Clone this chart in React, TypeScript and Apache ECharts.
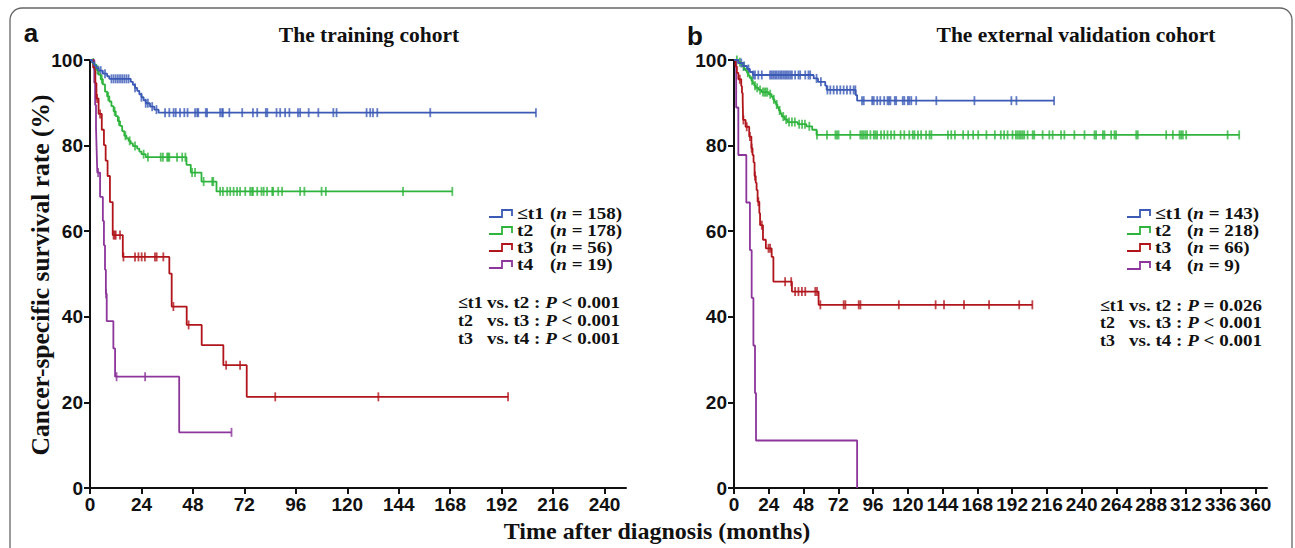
import React, { useEffect, useRef } from "react";
import * as echarts from "echarts";

// ---------- data ----------
const LEFT_XTICKS = [0, 24, 48, 72, 96, 120, 144, 168, 192, 216, 240];
const RIGHT_XTICKS = [0, 24, 48, 72, 96, 120, 144, 168, 192, 216, 240, 264, 288, 312, 336, 360];

// Training cohort
const LB_T = [0, 1, 2, 3, 4, 6, 8, 9, 19, 20, 21, 22, 23, 24, 25, 26, 28, 30, 32];
const LB_S = [100, 99.4, 98.7, 98.1, 97.5, 96.8, 96.2, 95.6, 94.9, 94.2, 93.5, 92.8, 92.0, 91.3, 90.6, 89.9, 89.1, 88.4, 87.7];
const LB_END = 208;
const LB_C = [2, 4, 5, 7, 10, 11, 12, 13, 14, 15, 16, 17, 18, 21, 24, 26, 27, 29, 31, 35, 37, 39, 40, 42, 44, 45.5, 49, 50, 50.5, 54, 54.6, 60.7, 61.6, 62, 65, 71, 76, 78, 82, 82.7, 87, 88.7, 91, 93, 97, 98, 102, 106.5, 113.5, 115, 129, 130.7, 132, 134, 158.7, 208];

const LG_T = [0, 1, 2, 3, 4, 5, 6, 7, 8, 9, 10, 11, 12, 13, 14, 15, 16, 17, 18, 19, 20, 22, 23, 24, 26, 45, 47, 52, 59];
const LG_S = [100, 99.4, 98.9, 97.7, 96.6, 95.5, 94.3, 92.6, 91.5, 90.3, 89.2, 88.0, 86.9, 85.7, 84.6, 83.4, 82.3, 81.7, 81.1, 80.5, 79.9, 79.3, 78.6, 78.0, 77.3, 75.5, 73.7, 71.6, 69.3];
const LG_END = 169;
const LG_C = [1.5, 3.5, 5.5, 8.5, 11.5, 13.5, 16.5, 18.5, 21, 25, 27, 33, 34, 36, 36.5, 37, 40.6, 43, 44.5, 47.6, 49, 53, 57, 57.5, 60.7, 62, 64, 65.4, 67, 68.6, 70, 72.4, 74.7, 75.6, 76, 78, 80, 81, 82.6, 85, 85.4, 87.8, 89.6, 98, 100, 108, 110, 146, 169];

const LR_T = [0, 1.5, 2.5, 3, 4, 5.5, 6.5, 7.3, 8.2, 9.3, 10.6, 15.3, 37, 38.1, 45.1, 52.1, 62.2, 73.1];
const LR_S = [100, 98.2, 94.6, 91.0, 87.4, 83.7, 80.1, 76.5, 72.9, 66.8, 59.1, 54.0, 50.1, 42.4, 38.1, 33.4, 28.7, 21.3];
const LR_END = 195;
const LR_C = [3.3, 4.7, 11, 11.5, 12, 14, 15.6, 21, 22.6, 24.1, 25.6, 30.3, 31.1, 34.2, 38.9, 46, 63.5, 70, 86.4, 134.5, 195];

const LP_T = [0, 2, 2.4, 2.8, 3.1, 3.4, 4.7, 6, 6.5, 7, 7.4, 7.8, 10.9, 11.7, 41.6];
const LP_S = [100, 94.7, 89.5, 84.2, 78.9, 73.7, 68.0, 62.4, 56.7, 51.0, 45.4, 39.0, 32.6, 26.0, 13.0];
const LP_END = 66;
const LP_C = [3.8, 7.5, 12.4, 25.7, 66];

// External validation cohort
const RB_T = [0, 3, 6, 9, 11, 13, 55, 58, 63, 64, 84, 85];
const RB_S = [100, 99.3, 98.6, 97.9, 97.2, 96.5, 95.7, 94.9, 94.0, 93.0, 91.8, 90.5];
const RB_END = 221;
const RB_C = [5, 7, 10, 13.4, 14.5, 16.8, 19.2, 24.9, 26.1, 27.2, 28.4, 29.5, 30.7, 31.9, 33, 34.2, 35.3, 36.5, 37.6, 38.8, 40, 42.2, 44.5, 45.7, 49.2, 51.4, 52.6, 57, 60, 64.5, 66.5, 68.8, 71.1, 73.4, 75.7, 78, 80.3, 82.6, 83.8, 88.4, 89.6, 95.4, 96.5, 98.9, 101, 103.7, 106, 107, 108, 111, 112, 116.5, 117.6, 120, 121, 122.4, 125.8, 139.7, 166, 191.5, 195, 221];

const RG_T = [0, 3, 5, 6, 7, 8, 9, 10, 11, 12, 13, 14, 15, 17, 19, 24, 26, 27, 28, 29, 30, 31, 32, 33, 35, 37, 44, 50, 54, 57];
const RG_S = [100, 99.5, 99, 98.5, 98, 97.5, 97, 96.4, 95.8, 95.2, 94.6, 94.0, 93.5, 93, 92.5, 92, 91.4, 90.8, 90.2, 89.6, 88.9, 88.2, 87.5, 86.8, 86.1, 85.5, 85.0, 84.5, 83.7, 82.5];
const RG_END = 349;
const RG_C = [2, 4, 6.5, 9.5, 12.5, 14.5, 16, 18, 20, 21, 22, 23, 25, 27.5, 29.5, 31.5, 34, 36, 38, 40, 42, 45, 47, 49, 52, 57.3, 64.2, 70, 71.1, 72.2, 80.3, 87.2, 88.4, 89.5, 90.7, 91.9, 94.2, 96.5, 97.6, 98.8, 101.5, 103.7, 106, 108.4, 110.7, 115, 117.6, 121, 123.4, 124.6, 127, 129.2, 132.6, 135, 136.3, 147.7, 150, 152.5, 158.2, 161.7, 165.1, 168.6, 174.3, 180.1, 184.2, 186.5, 188.9, 192.3, 194.6, 195.8, 197, 198.1, 199.3, 200.4, 202.7, 206.2, 207.3, 213.1, 217.7, 220, 225.8, 228.1, 235, 242, 248.9, 250, 254.7, 255.8, 260.4, 262.7, 263.8, 277.7, 278.8, 298.4, 303, 307.6, 308.7, 309.9, 312.2, 340.8, 348.8];

const RR_T = [0, 1, 2, 3, 5, 5.5, 6, 6.3, 8, 10.5, 12, 12.8, 13.5, 14.2, 15, 15.6, 16.3, 17.5, 18, 20, 22, 26, 27.2, 40, 58.4];
const RR_S = [100, 98.5, 97, 95.5, 93.9, 92.3, 90.7, 86.0, 84.4, 82.1, 79.4, 77.8, 76.1, 72.9, 71.3, 69.6, 66.9, 64.2, 61.4, 58.0, 56.0, 54.0, 48.2, 45.9, 42.8];
const RR_END = 206;
const RR_C = [4, 6.5, 8.8, 11, 12.2, 14.5, 16.8, 19.2, 23.8, 24.9, 35.3, 39.5, 42.2, 44.5, 46.9, 49.2, 56.1, 57.3, 59.6, 75.7, 76.9, 86.1, 87.3, 113.8, 139.2, 145, 158.8, 176.1, 196.9, 206];

const RP_T = [0, 1.5, 3, 8.5, 11, 12.2, 13.4, 14.5, 15.2, 85];
const RP_S = [100, 88.9, 77.8, 66.7, 55.6, 44.4, 33.3, 22.2, 11.1, 0];
const RP_END = 85;
const RP_C: number[] = [];

const LEFT_LEGEND = [
  { label: "≤t1", n: "158" },
  { label: "t2", n: "178" },
  { label: "t3", n: "56" },
  { label: "t4", n: "19" },
];
const RIGHT_LEGEND = [
  { label: "≤t1", n: "143" },
  { label: "t2", n: "218" },
  { label: "t3", n: "66" },
  { label: "t4", n: "9" },
];
const LEFT_P = [
  { a: "≤t1", b: "vs. t2 : {i|P} < 0.001" },
  { a: "t2", b: "vs. t3 : {i|P} < 0.001" },
  { a: "t3", b: "vs. t4 : {i|P} < 0.001" },
];
const RIGHT_P = [
  { a: "≤t1", b: "vs. t2 : {i|P} = 0.026" },
  { a: "t2", b: "vs. t3 : {i|P} < 0.001" },
  { a: "t3", b: "vs. t4 : {i|P} < 0.001" },
];

const COLORS = ["#3b5ab6", "#2eb43c", "#b1151c", "#8c359b"];

// ---------- helpers ----------
function survAt(T: number[], S: number[], t: number) {
  let v = S[0];
  for (let i = 0; i < T.length; i++) if (T[i] <= t) v = S[i];
  return v;
}
function stepData(T: number[], S: number[], end: number) {
  const d = T.map((t, i) => [t, S[i]]);
  if (end > T[T.length - 1]) d.push([end, S[S.length - 1]]);
  return d;
}
function curve(T: number[], S: number[], end: number, C: number[], color: string, axis: number) {
  return [
    {
      type: "line",
      step: "end",
      data: stepData(T, S, end),
      xAxisIndex: axis,
      yAxisIndex: axis,
      showSymbol: false,
      symbol: "none",
      lineStyle: { color, width: 1.8 },
      itemStyle: { color },
      silent: true,
    },
    {
      type: "scatter",
      data: C.map((t) => [t, survAt(T, S, t)]),
      xAxisIndex: axis,
      yAxisIndex: axis,
      symbol: "rect",
      symbolSize: [1.8, 9],
      itemStyle: { color },
      silent: true,
    },
  ];
}

const SERIF = "'Liberation Serif', 'Times New Roman', serif";
const SANS = "'Liberation Sans', Arial, sans-serif";
const FS = 17;
const ITALIC = { fontStyle: "italic", fontWeight: "bold", fontSize: FS, fontFamily: SERIF, fill: "#111" };
const PLAIN = { fontWeight: "bold", fontSize: FS, fontFamily: SERIF, fill: "#111" };

function legendBlock(items: { label: string; n: string }[], iconX: number, labelX: number, countX: number, ys: number[]) {
  const els: any[] = [];
  items.forEach((it, i) => {
    const y = ys[i];
    els.push({
      type: "polyline",
      shape: { points: [[iconX, y + 4], [iconX + 13, y + 4], [iconX + 13, y - 3], [iconX + 23, y - 3], [iconX + 23, y + 3]] },
      style: { stroke: COLORS[i], lineWidth: 1.8, fill: null },
    });
    els.push({
      type: "text",
      x: labelX,
      y,
      scaleX: 1.15,
      style: { text: `{p|${it.label}}`, rich: { p: PLAIN }, align: "left", verticalAlign: "middle" },
    });
    els.push({
      type: "text",
      x: countX,
      y,
      scaleX: 1.12,
      style: {
        text: `{p|(}{i|n}{p| = ${it.n})}`,
        rich: { p: PLAIN, i: ITALIC },
        align: "left",
        verticalAlign: "middle",
      },
    });
  });
  return els;
}
function pBlock(items: { a: string; b: string }[], xA: number, xRight: number, ys: number[]) {
  const els: any[] = [];
  items.forEach((it, i) => {
    els.push({
      type: "text",
      x: xA,
      y: ys[i],
      scaleX: 1.05,
      style: { text: `{p|${it.a}}`, rich: { p: PLAIN }, align: "left", verticalAlign: "middle" },
    });
    els.push({
      type: "text",
      x: xRight,
      y: ys[i],
      scaleX: 1.12,
      style: {
        text: "{p|" + it.b.replace("{i|P}", "}{i|P}{p|") + "}",
        rich: { p: PLAIN, i: ITALIC },
        align: "right",
        verticalAlign: "middle",
      },
    });
  });
  return els;
}

function xAxisCfg(grid: number, max: number, ticks: number[]) {
  return {
    type: "value",
    gridIndex: grid,
    min: 0,
    max,
    axisLine: { show: true, onZero: false, lineStyle: { color: "#111", width: 2 } },
    axisTick: { show: true, length: 6, customValues: ticks, lineStyle: { color: "#111", width: 2 } },
    axisLabel: { customValues: ticks, fontFamily: SANS, fontWeight: "bold", fontSize: 19, color: "#111", margin: 7 },
    splitLine: { show: false },
  };
}
function yAxisCfg(grid: number) {
  return {
    type: "value",
    gridIndex: grid,
    min: 0,
    max: 100,
    interval: 20,
    axisLine: { show: true, onZero: false, lineStyle: { color: "#111", width: 2 } },
    axisTick: { show: true, length: 6, lineStyle: { color: "#111", width: 2 } },
    axisLabel: { fontFamily: SANS, fontWeight: "bold", fontSize: 19, color: "#111", margin: 7 },
    splitLine: { show: false },
  };
}

export default function App() {
  const ref = useRef<HTMLDivElement>(null);
  useEffect(() => {
    if (!ref.current) return;
    const chart = echarts.init(ref.current, undefined, { renderer: "svg" });
    const series = [
      ...curve(LP_T, LP_S, LP_END, LP_C, COLORS[3], 0),
      ...curve(LR_T, LR_S, LR_END, LR_C, COLORS[2], 0),
      ...curve(LG_T, LG_S, LG_END, LG_C, COLORS[1], 0),
      ...curve(LB_T, LB_S, LB_END, LB_C, COLORS[0], 0),
      ...curve(RP_T, RP_S, RP_END, RP_C, COLORS[3], 1),
      ...curve(RR_T, RR_S, RR_END, RR_C, COLORS[2], 1),
      ...curve(RG_T, RG_S, RG_END, RG_C, COLORS[1], 1),
      ...curve(RB_T, RB_S, RB_END, RB_C, COLORS[0], 1),
    ];
    const graphic: any[] = [
      {
        type: "rect",
        shape: { x: 10, y: 8, width: 1282, height: 600, r: 12 },
        style: { fill: null, stroke: "#666", lineWidth: 1.3 },
        silent: true,
      },
      { type: "text", x: 31, y: 33, style: { text: "a", font: `bold 26px ${SANS}`, fill: "#111", align: "center", verticalAlign: "middle" } },
      { type: "text", x: 695, y: 36, style: { text: "b", font: `bold 26px ${SANS}`, fill: "#111", align: "center", verticalAlign: "middle" } },
      { type: "text", x: 369, y: 35, style: { text: "The training cohort", font: `bold 21.5px ${SERIF}`, fill: "#111", align: "center", verticalAlign: "middle" } },
      { type: "text", x: 1076, y: 35, style: { text: "The external validation cohort", font: `bold 21.5px ${SERIF}`, fill: "#111", align: "center", verticalAlign: "middle" } },
      { type: "text", x: 657, y: 531, style: { text: "Time after diagnosis (months)", font: `bold 24px ${SERIF}`, fill: "#111", align: "center", verticalAlign: "middle" } },
      {
        type: "text",
        x: 40,
        y: 275,
        rotation: Math.PI / 2,
        style: { text: "Cancer-specific survival rate (%)", font: `bold 25.5px ${SERIF}`, fill: "#111", align: "center", verticalAlign: "middle" },
      },
      ...legendBlock(LEFT_LEGEND, 489, 517, 550, [213, 230, 247, 264]),
      ...legendBlock(RIGHT_LEGEND, 1127, 1155, 1187, [213, 230, 247, 265]),
      ...pBlock(LEFT_P, 458, 620, [302, 320, 338]),
      ...pBlock(RIGHT_P, 1100, 1262, [305, 322, 340]),
    ];
    chart.setOption({
      animation: false,
      backgroundColor: "#fff",
      grid: [
        { left: 90, right: 669, top: 60, bottom: 60 },
        { left: 734, right: 28, top: 60, bottom: 60 },
      ],
      xAxis: [xAxisCfg(0, 250, LEFT_XTICKS), xAxisCfg(1, 368, RIGHT_XTICKS)],
      yAxis: [yAxisCfg(0), yAxisCfg(1)],
      series,
      graphic,
    });
    return () => chart.dispose();
  }, []);
  return <div ref={ref} style={{ position: "fixed", left: 0, top: 0, width: 1295, height: 548 }} />;
}
